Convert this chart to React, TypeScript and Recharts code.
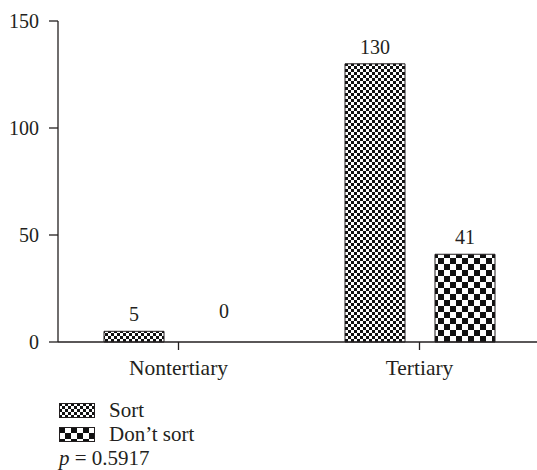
import { Bar, BarChart, LabelList, Legend, Rectangle, XAxis, YAxis } from "recharts";

const CATEGORIES = ["Nontertiary", "Tertiary"];
const SORT = [5, 130];
const DONT_SORT = [0, 41];
const Y_TICKS = [0, 50, 100, 150];
const P_VALUE = "0.5917";

const data = CATEGORIES.map((name, i) => ({ name, sort: SORT[i], dontSort: DONT_SORT[i] }));

const INK = "#231f20";
const FONT = "'Liberation Serif', 'Times New Roman', serif";
const numTick = { fill: INK, fontSize: 20, fontFamily: FONT };
const wordTick = { fill: INK, fontSize: 21.5, fontFamily: FONT };

const Patterns = ({ prefix }: { prefix: string }) => (
  <defs>
    <pattern id={`${prefix}-fine`} patternUnits="userSpaceOnUse" width={6} height={6}>
      <rect width={6} height={6} fill="#fff" />
      <rect x={0} y={0} width={3} height={3} fill="#111" />
      <rect x={3} y={3} width={3} height={3} fill="#111" />
    </pattern>
    <pattern id={`${prefix}-coarse`} patternUnits="userSpaceOnUse" width={12} height={12}>
      <rect width={12} height={12} fill="#fff" />
      <rect x={0} y={0} width={6} height={6} fill="#111" />
      <rect x={6} y={6} width={6} height={6} fill="#111" />
    </pattern>
  </defs>
);

// zero-valued bars only keep their label, no outline on the axis
const BarShape = (props: any) => (props.height > 0.5 ? <Rectangle {...props} /> : <g />);

// value label; the zero bar gets its label lifted a bit, as in the original
const ValueLabel = (props: any) => {
  const { x, y, width, value } = props;
  const lift = Number(value) === 0 ? 24 : 10;
  return (
    <text x={x + width / 2} y={y - lift} textAnchor="middle" fill={INK} fontSize={20} fontFamily={FONT}>
      {value}
    </text>
  );
};

const LegendBox = () => (
  <div style={{ fontFamily: FONT, fontSize: 21, color: INK, lineHeight: "24px" }}>
    {[
      { label: "Sort", fill: "lg-fine" },
      { label: "Don\u2019t sort", fill: "lg-coarse" },
    ].map((row) => (
      <div key={row.label} style={{ display: "flex", alignItems: "center", height: 24 }}>
        <svg width={36} height={15} style={{ marginRight: 14 }}>
          <Patterns prefix="lg" />
          <rect x={0.5} y={0.5} width={35} height={14} fill={`url(#${row.fill})`} stroke={INK} strokeWidth={1} />
        </svg>
        <span>{row.label}</span>
      </div>
    ))}
    <div style={{ height: 24 }}>
      <span style={{ fontStyle: "italic" }}>p</span> = {P_VALUE}
    </div>
  </div>
);

export default function App() {
  return (
    <div style={{ position: "absolute", left: 0, top: 0, width: 537, height: 470, background: "#fff" }}>
      <BarChart
        width={537}
        height={470}
        data={data}
        margin={{ top: 21, right: -3, left: 0, bottom: 98 }}
        barSize={60}
        barGap={30}
      >
        <Patterns prefix="bar" />
        <XAxis
          dataKey="name"
          height={30}
          tick={wordTick}
          tickSize={8}
          tickMargin={10}
          axisLine={{ stroke: INK, strokeWidth: 1.3 }}
          tickLine={{ stroke: INK, strokeWidth: 1.3 }}
        />
        <YAxis
          width={58}
          domain={[0, 150]}
          ticks={Y_TICKS}
          tick={numTick}
          tickSize={9}
          tickMargin={10}
          axisLine={{ stroke: INK, strokeWidth: 1.3 }}
          tickLine={{ stroke: INK, strokeWidth: 1.3 }}
        />
        <Bar
          dataKey="sort"
          name="Sort"
          fill="url(#bar-fine)"
          stroke={INK}
          strokeWidth={1}
          shape={BarShape}
          isAnimationActive={false}
        >
          <LabelList dataKey="sort" content={ValueLabel} />
        </Bar>
        <Bar
          dataKey="dontSort"
          name="Don't sort"
          fill="url(#bar-coarse)"
          stroke={INK}
          strokeWidth={1}
          minPointSize={0.01}
          shape={BarShape}
          isAnimationActive={false}
        >
          <LabelList dataKey="dontSort" content={ValueLabel} />
        </Bar>
        <Legend
          layout="horizontal"
          verticalAlign="middle"
          align="center"
          content={LegendBox}
          wrapperStyle={{ left: 59, top: 398, width: 220, height: 72 }}
        />
      </BarChart>
    </div>
  );
}
